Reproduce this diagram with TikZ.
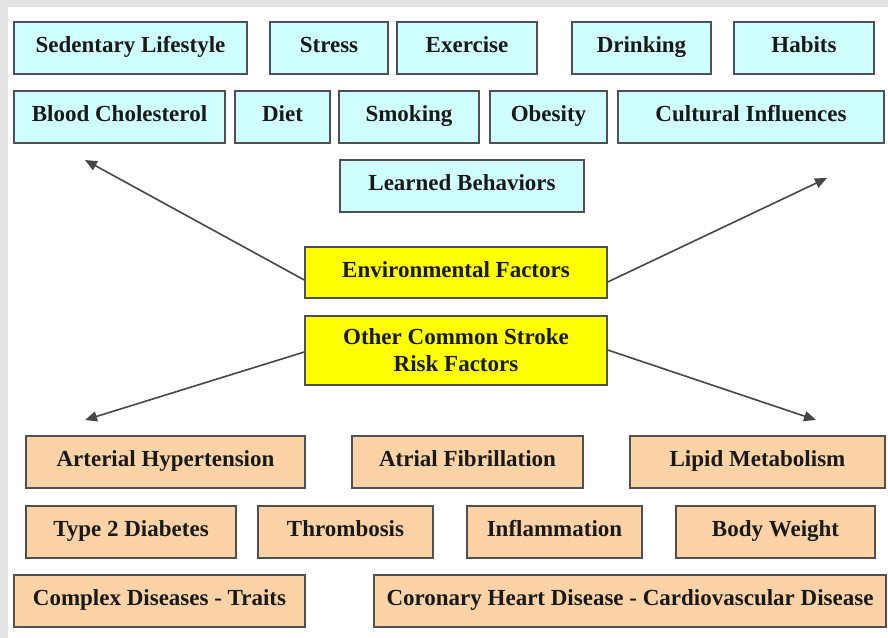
\documentclass[tikz,border=0pt]{standalone}
\usepackage{fontspec}
\setmainfont{Liberation Serif}
\usetikzlibrary{arrows.meta,calc}
\definecolor{bggray}{RGB}{228,228,228}
\definecolor{cyanfill}{RGB}{208,255,255}
\definecolor{peachfill}{RGB}{251,211,166}
\definecolor{yellowfill}{RGB}{255,255,0}
\definecolor{edgegray}{RGB}{80,80,80}
\definecolor{arrowgray}{RGB}{70,70,70}
\tikzset{
  plainbox/.style={draw=edgegray, line width=1.4bp, inner sep=0pt, minimum height=52bp,
    font=\fontsize{23bp}{27bp}\selectfont\bfseries, text=black!90},
  basebox/.style={plainbox, text height=15bp, text depth=5.6bp},
  cbox/.style={basebox, fill=cyanfill},
  pbox/.style={basebox, fill=peachfill},
  ybox/.style={basebox, fill=yellowfill},
  conn/.style={draw=arrowgray, line width=1.6bp, -{Triangle[length=12bp,width=10bp]}}
}
\begin{document}
\begin{tikzpicture}[x=1bp,y=-1bp]
\useasboundingbox (0,0) rectangle (888,638);
\fill[bggray] (0,0) rectangle (888,638);
\fill[white] (8,7) rectangle (888,638);
% row 1
\node[cbox, minimum width=233bp] (sed) at (130.5,48) {Sedentary Lifestyle};
\node[cbox, minimum width=118bp] (stress) at (329,48) {Stress};
\node[cbox, minimum width=140bp] (exercise) at (467,48) {Exercise};
\node[cbox, minimum width=139bp] (drinking) at (641.5,48) {Drinking};
\node[cbox, minimum width=140bp] (habits) at (804,48) {Habits};
% row 2
\node[cbox, minimum width=211bp] (blood) at (119.5,117) {Blood Cholesterol};
\node[cbox, minimum width=95bp] (diet) at (282.5,117) {Diet};
\node[cbox, minimum width=140bp] (smoking) at (409,117) {Smoking};
\node[cbox, minimum width=117bp] (obesity) at (548.5,117) {Obesity};
\node[cbox, minimum width=266bp] (cultural) at (751,117) {Cultural Influences};
% learned
\node[cbox, minimum width=244bp] (learned) at (462,186) {Learned Behaviors};
% center
\node[ybox, minimum width=302bp, minimum height=51bp] (env) at (456,272.5) {Environmental Factors};
\node[plainbox, fill=yellowfill, minimum width=302bp, minimum height=69bp, align=center] (other) at (456,350.5) {Other Common Stroke\\Risk Factors};
% peach row A
\node[pbox, minimum width=279bp] (arterial) at (165.5,462) {Arterial Hypertension};
\node[pbox, minimum width=231bp] (atrial) at (467.5,462) {Atrial Fibrillation};
\node[pbox, minimum width=255bp] (lipid) at (757.5,462) {Lipid Metabolism};
% row B
\node[pbox, minimum width=210bp] (diabetes) at (131,532) {Type 2 Diabetes};
\node[pbox, minimum width=175bp] (thromb) at (345.5,532) {Thrombosis};
\node[pbox, minimum width=175bp] (inflam) at (554.5,532) {Inflammation};
\node[pbox, minimum width=199bp] (body) at (775.5,532) {Body Weight};
% row C
\node[pbox, minimum width=291bp] (complex) at (159.5,601) {Complex Diseases - Traits};
\node[pbox, minimum width=512bp] (coronary) at (630,601) {Coronary Heart Disease - Cardiovascular Disease};
% arrow tips
\coordinate (tipUL) at (85,160);
\coordinate (tipUR) at (827,178);
\coordinate (tipLL) at (85,420);
\coordinate (tipLR) at (816,420);
\draw[conn] ($(env.west)+(0,7.5)$) -- (tipUL);
\draw[conn] ($(env.east)+(0,9.5)$) -- (tipUR);
\draw[conn] ($(other.west)+(0,1.5)$) -- (tipLL);
\draw[conn] ($(other.east)+(0,-0.5)$) -- (tipLR);
\end{tikzpicture}
\end{document}
